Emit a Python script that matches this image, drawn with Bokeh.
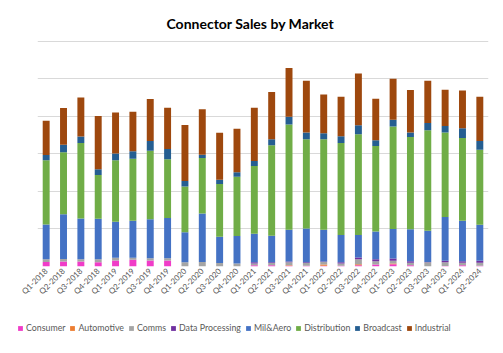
import math
from bokeh.plotting import figure
from bokeh.layouts import column
from bokeh.models import FactorRange, Range1d, SingleIntervalTicker, Legend, LegendItem
from bokeh.embed import file_html
from bokeh.resources import INLINE

quarters = ["Q1-2018", "Q2-2018", "Q3-2018", "Q4-2018",
            "Q1-2019", "Q2-2019", "Q3-2019", "Q4-2019",
            "Q1-2020", "Q2-2020", "Q3-2020", "Q4-2020",
            "Q1-2021", "Q2-2021", "Q3-2021", "Q4-2021",
            "Q1-2022", "Q2-2022", "Q3-2022", "Q4-2022",
            "Q1-2023", "Q2-2023", "Q3-2023", "Q4-2023",
            "Q1-2024", "Q2-2024"]

consumer = [12, 13, 13, 11, 16, 18, 16, 16, 0, 0, 0, 0, 3, 3, 2, 2, 2, 2, 3, 5, 6, 3, 0, 1, 3, 2]
automotive = [0, 0, 0, 0, 0, 0, 0, 0, 0, 0, 0, 0, 0, 0, 1, 0, 3, 0, 3, 0, 2, 0, 0, 0, 0, 0]
comms = [7, 7, 6, 8, 7, 5, 6, 6, 11, 12, 9, 8, 5, 6, 8, 7, 7, 6, 13, 9, 7, 7, 11, 10, 7, 8]
data_processing = [0, 0, 0, 0, 0, 0, 0, 0, 0, 0, 0, 0, 3, 2, 2, 2, 1, 3, 5, 5, 6, 4, 1, 4, 4, 5]
mil_aero = [93, 119, 109, 108, 96, 99, 104, 107, 80, 129, 70, 73, 76, 71, 85, 90, 85, 73, 60, 74, 79, 85, 83, 117, 108, 96]
distribution = [171, 165, 201, 117, 164, 165, 182, 157, 122, 148, 141, 158, 181, 241, 280, 238, 241, 245, 268, 228, 273, 246, 268, 225, 220, 200]
broadcast = [14, 20, 17, 15, 18, 20, 26, 27, 15, 9, 11, 12, 13, 16, 21, 18, 16, 18, 24, 15, 18, 12, 19, 17, 26, 23]
industrial = [91, 98, 104, 142, 109, 105, 112, 110, 149, 121, 125, 116, 142, 126, 130, 138, 103, 105, 138, 111, 109, 113, 113, 97, 101, 118]

series = ["Consumer", "Automotive", "Comms", "Data Processing",
          "Mil&Aero", "Distribution", "Broadcast", "Industrial"]
colors = ["#f03cc8", "#ed7d31", "#a5a5a5", "#7030a0",
          "#4472c4", "#70ad47", "#255e91", "#9e480e"]

data = {"q": quarters,
        "Consumer": consumer, "Automotive": automotive, "Comms": comms,
        "Data Processing": data_processing, "Mil&Aero": mil_aero,
        "Distribution": distribution, "Broadcast": broadcast,
        "Industrial": industrial}

# main chart
p = figure(width=503, height=310, output_backend="svg", toolbar_location=None,
           x_range=FactorRange(*quarters, range_padding=0),
           y_range=Range1d(0, 602),
           min_border_left=37, min_border_right=15,
           min_border_top=40, min_border_bottom=44,
           title="Connector Sales by Market")
p.frame_align = False

renderers = p.vbar_stack(series, x="q", width=0.4, color=colors, source=data,
                         line_width=0)

p.title.align = "left"
p.title.offset = 129
p.title.text_font = "Lato"
p.title.text_font_style = "bold"
p.title.text_font_size = "14px"
p.title.text_color = "#000000"
p.title.standoff = 18

p.outline_line_color = None
p.background_fill_color = "white"
p.border_fill_color = "white"

p.yaxis.visible = False
p.yaxis.ticker = SingleIntervalTicker(interval=100)
p.ygrid.ticker = SingleIntervalTicker(interval=100)
p.ygrid.grid_line_color = "#d9d9d9"
p.xgrid.grid_line_color = None

ax = p.xaxis[0]
ax.major_label_orientation = math.pi / 4
ax.major_label_text_font = "Lato"
ax.major_label_text_font_size = "8px"
ax.major_label_text_color = "#595959"
ax.major_tick_line_color = None
ax.minor_tick_line_color = None
ax.major_tick_out = 0
ax.major_tick_in = 0
ax.axis_line_color = None
ax.major_label_standoff = 3

# legend strip
pl = figure(width=503, height=43, output_backend="svg", toolbar_location=None,
            x_range=Range1d(0, 1), y_range=Range1d(0, 1),
            x_axis_location=None, y_axis_location=None,
            min_border=0, outline_line_color=None)
pl.frame_align = False
pl.grid.visible = False
items = []
for s, c in zip(series, colors):
    r = pl.vbar(x=[5], top=[5], bottom=[4], width=0.4, color=c, line_width=0)
    items.append(LegendItem(label=s, renderers=[r]))

lg = Legend(items=items, location=(17, 20))
lg.orientation = "horizontal"
lg.border_line_color = None
lg.background_fill_alpha = 0
lg.glyph_width = 6
lg.glyph_height = 6
lg.label_standoff = 3
lg.spacing = 4
lg.padding = 0
lg.margin = 0
lg.label_text_font = "Lato"
lg.label_text_font_size = "8.8px"
lg.label_text_color = "#595959"
lg.label_height = 10
pl.add_layout(lg, "center")

layout = column(p, pl, spacing=0)
open("out.html", "w").write(file_html(layout, INLINE))
